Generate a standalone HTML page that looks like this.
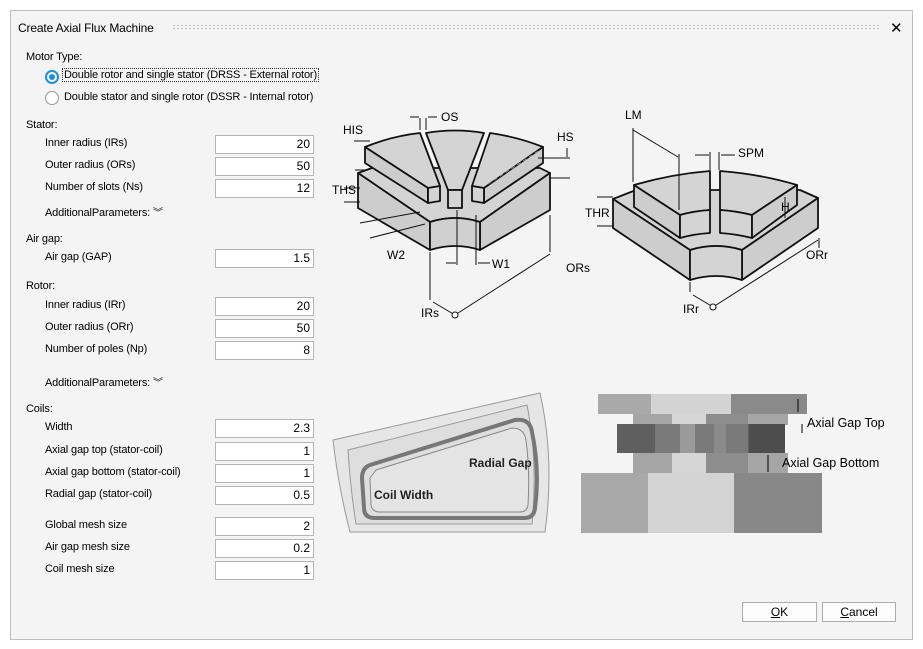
<!DOCTYPE html>
<html><head><meta charset="utf-8"><style>
body{margin:0;width:923px;height:649px;background:#fff;font-family:"Liberation Sans",sans-serif;font-size:11px;color:#000;position:relative;overflow:hidden}
#win{position:absolute;left:10px;top:10px;width:901px;height:628px;border:1px solid #bdbdbd;background:#f4f4f4}
.t{position:absolute;white-space:nowrap;letter-spacing:-0.15px}
.in{position:absolute;left:215px;width:97px;height:17px;border:1px solid #b4b4b4;background:#fff;text-align:right;font-size:12px;line-height:17px;box-sizing:content-box}
.in span{padding-right:3px}
.btn{position:absolute;top:602px;height:18px;border:1px solid #adadad;background:#fdfdfd;text-align:center;line-height:18px;font-size:12px}
svg text{font-family:"Liberation Sans",sans-serif}
</style></head><body>
<div id="win"></div>
<div class="t" style="left:18px;top:21px;font-size:12px">Create Axial Flux Machine</div>
<div style="position:absolute;left:172px;top:24px;width:708px;height:5px;background-image:radial-gradient(#bbb 0.8px,transparent 1px);background-size:4px 3px"></div>
<div class="t" style="left:890px;top:19px;font-size:15px">✕</div>
<div class="t" style="left:26px;top:51px">Motor Type:</div>
<div style="position:absolute;left:45px;top:70px;width:10px;height:10px;border-radius:50%;border:2px solid #1a8fe3;background:#fff"><div style="position:absolute;left:2px;top:2px;width:6px;height:6px;border-radius:50%;background:#1a8fe3"></div></div>
<div class="t" style="left:62px;top:68px;border:1px dotted #333;padding:0 1px">Double rotor and single stator (DRSS - External rotor)</div>
<div style="position:absolute;left:45px;top:91px;width:12px;height:12px;border-radius:50%;border:1px solid #999;background:#fff"></div>
<div class="t" style="left:64px;top:91px">Double stator and single rotor (DSSR - Internal rotor)</div>
<div class="t" style="left:26px;top:119px">Stator:</div>
<div class="t" style="left:45px;top:137px">Inner radius (IRs)</div><div class="in" style="top:135px"><span>20</span></div>
<div class="t" style="left:45px;top:159px">Outer radius (ORs)</div><div class="in" style="top:157px"><span>50</span></div>
<div class="t" style="left:45px;top:181px">Number of slots (Ns)</div><div class="in" style="top:179px"><span>12</span></div>
<div class="t" style="left:45px;top:204px">AdditionalParameters: <span style="font-size:10px">︾</span></div>
<div class="t" style="left:26px;top:233px">Air gap:</div>
<div class="t" style="left:45px;top:251px">Air gap (GAP)</div><div class="in" style="top:249px"><span>1.5</span></div>
<div class="t" style="left:26px;top:280px">Rotor:</div>
<div class="t" style="left:45px;top:299px">Inner radius (IRr)</div><div class="in" style="top:297px"><span>20</span></div>
<div class="t" style="left:45px;top:321px">Outer radius (ORr)</div><div class="in" style="top:319px"><span>50</span></div>
<div class="t" style="left:45px;top:343px">Number of poles (Np)</div><div class="in" style="top:341px"><span>8</span></div>
<div class="t" style="left:45px;top:374px">AdditionalParameters: <span style="font-size:10px">︾</span></div>
<div class="t" style="left:26px;top:403px">Coils:</div>
<div class="t" style="left:45px;top:421px">Width</div><div class="in" style="top:419px"><span>2.3</span></div>
<div class="t" style="left:45px;top:444px">Axial gap top (stator-coil)</div><div class="in" style="top:442px"><span>1</span></div>
<div class="t" style="left:45px;top:466px">Axial gap bottom (stator-coil)</div><div class="in" style="top:464px"><span>1</span></div>
<div class="t" style="left:45px;top:488px">Radial gap (stator-coil)</div><div class="in" style="top:486px"><span>0.5</span></div>
<div class="t" style="left:45px;top:519px">Global mesh size</div><div class="in" style="top:517px"><span>2</span></div>
<div class="t" style="left:45px;top:541px">Air gap mesh size</div><div class="in" style="top:539px"><span>0.2</span></div>
<div class="t" style="left:45px;top:563px">Coil mesh size</div><div class="in" style="top:561px"><span>1</span></div>
<div class="btn" style="left:742px;width:73px"><u>O</u>K</div>
<div class="btn" style="left:822px;width:72px"><u>C</u>ancel</div>

<svg style="position:absolute;left:0;top:0" width="923" height="649" font-size="12">
<g stroke="#111" stroke-width="1.8" fill="#d4d4d4" stroke-linejoin="round">
<!-- stator base -->
<path d="M358,173 L372,168 L540,168 L550,173 L480,222 Q455,214 430,222 Z"/>
<polygon points="358,173 430,222 430,250 358,208" fill="#cdcdcd"/>
<polygon points="480,222 550,173 550,210 480,250" fill="#cdcdcd"/>
<path d="M430,222 Q455,214 480,222 L480,250 Q455,242 430,250 Z" fill="#d0d0d0"/>
<!-- left tooth -->
<path d="M365,147 Q392,136 420,133 L440,186 L428,188 Z"/>
<polygon points="365,147 428,188 428,203 365,163" fill="#cdcdcd"/>
<polygon points="428,188 440,186 440,201 428,203"/>
<!-- middle tooth -->
<path d="M426,133 Q455,128 484,133 L462,190 L448,190 Z"/>
<polygon points="448,190 462,190 462,208 448,208"/>
<!-- right tooth -->
<path d="M490,133 Q518,137 543,147 L484,188 L472,186 Z"/>
<polygon points="484,188 543,147 543,163 484,203" fill="#cdcdcd"/>
<polygon points="472,186 484,188 484,203 472,201"/>
</g>
<line x1="488" y1="184" x2="540" y2="150" stroke="#888" stroke-dasharray="4,3"/>
<!-- rotor -->
<g stroke="#111" stroke-width="1.8" fill="#d4d4d4" stroke-linejoin="round">
<path d="M613,199 L636,190 L800,190 L818,198 L742,250 Q716,242 690,250 Z"/>
<polygon points="613,199 690,250 690,280 613,228" fill="#cdcdcd"/>
<polygon points="742,250 818,198 818,228 742,280" fill="#cdcdcd"/>
<path d="M690,250 Q716,242 742,250 L742,280 Q716,272 690,280 Z"/>
<path d="M634,185 Q672,174 710,171 L710,210 Q694,211 680,215 Z"/>
<polygon points="634,185 680,215 680,238 634,207" fill="#cdcdcd"/>
<path d="M680,215 Q694,211 710,210 L710,233 Q694,234 680,238 Z"/>
<path d="M720,171 Q760,174 797,185 L752,215 Q736,211 720,210 Z"/>
<path d="M720,210 Q736,211 752,215 L752,238 Q736,234 720,233 Z"/>
<polygon points="752,215 797,185 797,205 752,238" fill="#cdcdcd"/>
</g>
<g stroke="#111" stroke-width="1" fill="none">
<line x1="430" y1="252" x2="430" y2="300"/><line x1="550" y1="215" x2="550" y2="252"/>
<line x1="433" y1="302" x2="455" y2="315"/><line x1="455" y1="315" x2="550" y2="254"/>
<line x1="690" y1="282" x2="690" y2="292"/><line x1="819" y1="238" x2="819" y2="248"/>
<line x1="693" y1="295" x2="713" y2="307"/><line x1="713" y1="307" x2="818" y2="240"/>
<line x1="633" y1="130" x2="678" y2="157"/><line x1="679" y1="154" x2="679" y2="210"/><line x1="633" y1="128" x2="633" y2="182"/>
<line x1="597" y1="197" x2="613" y2="197"/><line x1="597" y1="226" x2="613" y2="226"/>
<line x1="344" y1="188" x2="360" y2="188"/><line x1="344" y1="202" x2="360" y2="202"/>
<line x1="355" y1="170" x2="365" y2="170"/><line x1="538" y1="158" x2="570" y2="158"/><line x1="550" y1="178" x2="570" y2="178"/>
<line x1="360" y1="223" x2="420" y2="212"/><line x1="370" y1="238" x2="425" y2="224"/>
<line x1="457" y1="210" x2="457" y2="265"/><line x1="476" y1="215" x2="476" y2="265"/>
<line x1="420" y1="118" x2="420" y2="130"/><line x1="426" y1="118" x2="426" y2="130"/>
<line x1="710" y1="152" x2="710" y2="170"/><line x1="719" y1="152" x2="719" y2="170"/>
<line x1="785" y1="197" x2="785" y2="218"/>
<line x1="410" y1="117" x2="419" y2="117"/><line x1="428" y1="117" x2="437" y2="117"/>
<line x1="695" y1="155" x2="709" y2="155"/><line x1="721" y1="155" x2="735" y2="155"/>
<line x1="446" y1="263" x2="456" y2="263"/><line x1="478" y1="263" x2="490" y2="263"/>
<line x1="354" y1="141" x2="370" y2="141"/><line x1="567" y1="148" x2="567" y2="157"/>
</g>
<circle cx="455" cy="315" r="3" fill="#fff" stroke="#111"/><circle cx="713" cy="307" r="3" fill="#fff" stroke="#111"/>
<g fill="#000">
<text x="441" y="121">OS</text><text x="343" y="134">HIS</text><text x="557" y="141">HS</text>
<text x="332" y="194">THS</text><text x="387" y="259">W2</text><text x="492" y="268">W1</text>
<text x="566" y="272">ORs</text><text x="421" y="317">IRs</text>
<text x="625" y="119">LM</text><text x="738" y="157">SPM</text><text x="585" y="217">THR</text>
<text x="781" y="211">H</text><text x="806" y="259">ORr</text><text x="683" y="313">IRr</text>
</g>
<!-- coil diagram -->
<path d="M333,440 L540,393 Q555,460 545,532 L350,532 Q338,485 333,440 Z" fill="#e6e6e6" stroke="#999"/>
<path d="M348,450 L527,405 Q538,460 532,524 L356,524 Q350,485 348,450 Z" fill="#dedede" stroke="#999"/>
<path d="M370,465 L515,420 Q530,418 532,432 Q540,470 535,508 Q534,518 524,518 L375,518 Q364,518 364,508 L362,478 Q362,468 370,465 Z" fill="none" stroke="#777" stroke-width="4"/>
<path d="M376,470 L512,428 Q524,428 526,440 Q530,470 528,505 Q527,512 520,512 L380,512 Q372,512 371,505 L370,478 Z" fill="#e4e4e4" stroke="#888"/>
<text x="469" y="467" font-size="12" font-weight="bold" fill="#222">Radial Gap</text>
<text x="374" y="499" font-size="12" font-weight="bold" fill="#222">Coil Width</text>
<!-- axial stack -->
<rect x="598" y="394" width="209" height="20" fill="#a9a9a9"/><rect x="651" y="394" width="80" height="20" fill="#d3d3d3"/><rect x="731" y="394" width="76" height="20" fill="#8a8a8a"/>
<rect x="633" y="414" width="155" height="11" fill="#a5a5a5"/><rect x="672" y="414" width="35" height="11" fill="#d6d6d6"/><rect x="706" y="414" width="42" height="11" fill="#8d8d8d"/>
<rect x="617" y="424" width="168" height="29" fill="#5f5f5f"/><rect x="655" y="424" width="93" height="29" fill="#7a7a7a"/><rect x="680" y="424" width="15" height="29" fill="#9a9a9a"/><rect x="714" y="424" width="12" height="29" fill="#8a8a8a"/><rect x="749" y="424" width="36" height="29" fill="#4d4d4d"/>
<rect x="633" y="453" width="155" height="20" fill="#a5a5a5"/><rect x="672" y="453" width="35" height="20" fill="#d6d6d6"/><rect x="706" y="453" width="42" height="20" fill="#8d8d8d"/>
<rect x="581" y="473" width="241" height="60" fill="#a8a8a8"/><rect x="648" y="473" width="86" height="60" fill="#d4d4d4"/><rect x="734" y="473" width="88" height="60" fill="#888"/>
<g stroke="#000"><line x1="798" y1="399" x2="798" y2="412"/><line x1="802" y1="424" x2="802" y2="433"/><line x1="768" y1="455" x2="768" y2="472"/></g>
<text x="807" y="427" font-size="12.5">Axial Gap Top</text>
<text x="782" y="467" font-size="12.5">Axial Gap Bottom</text>
</svg>
</body></html>
